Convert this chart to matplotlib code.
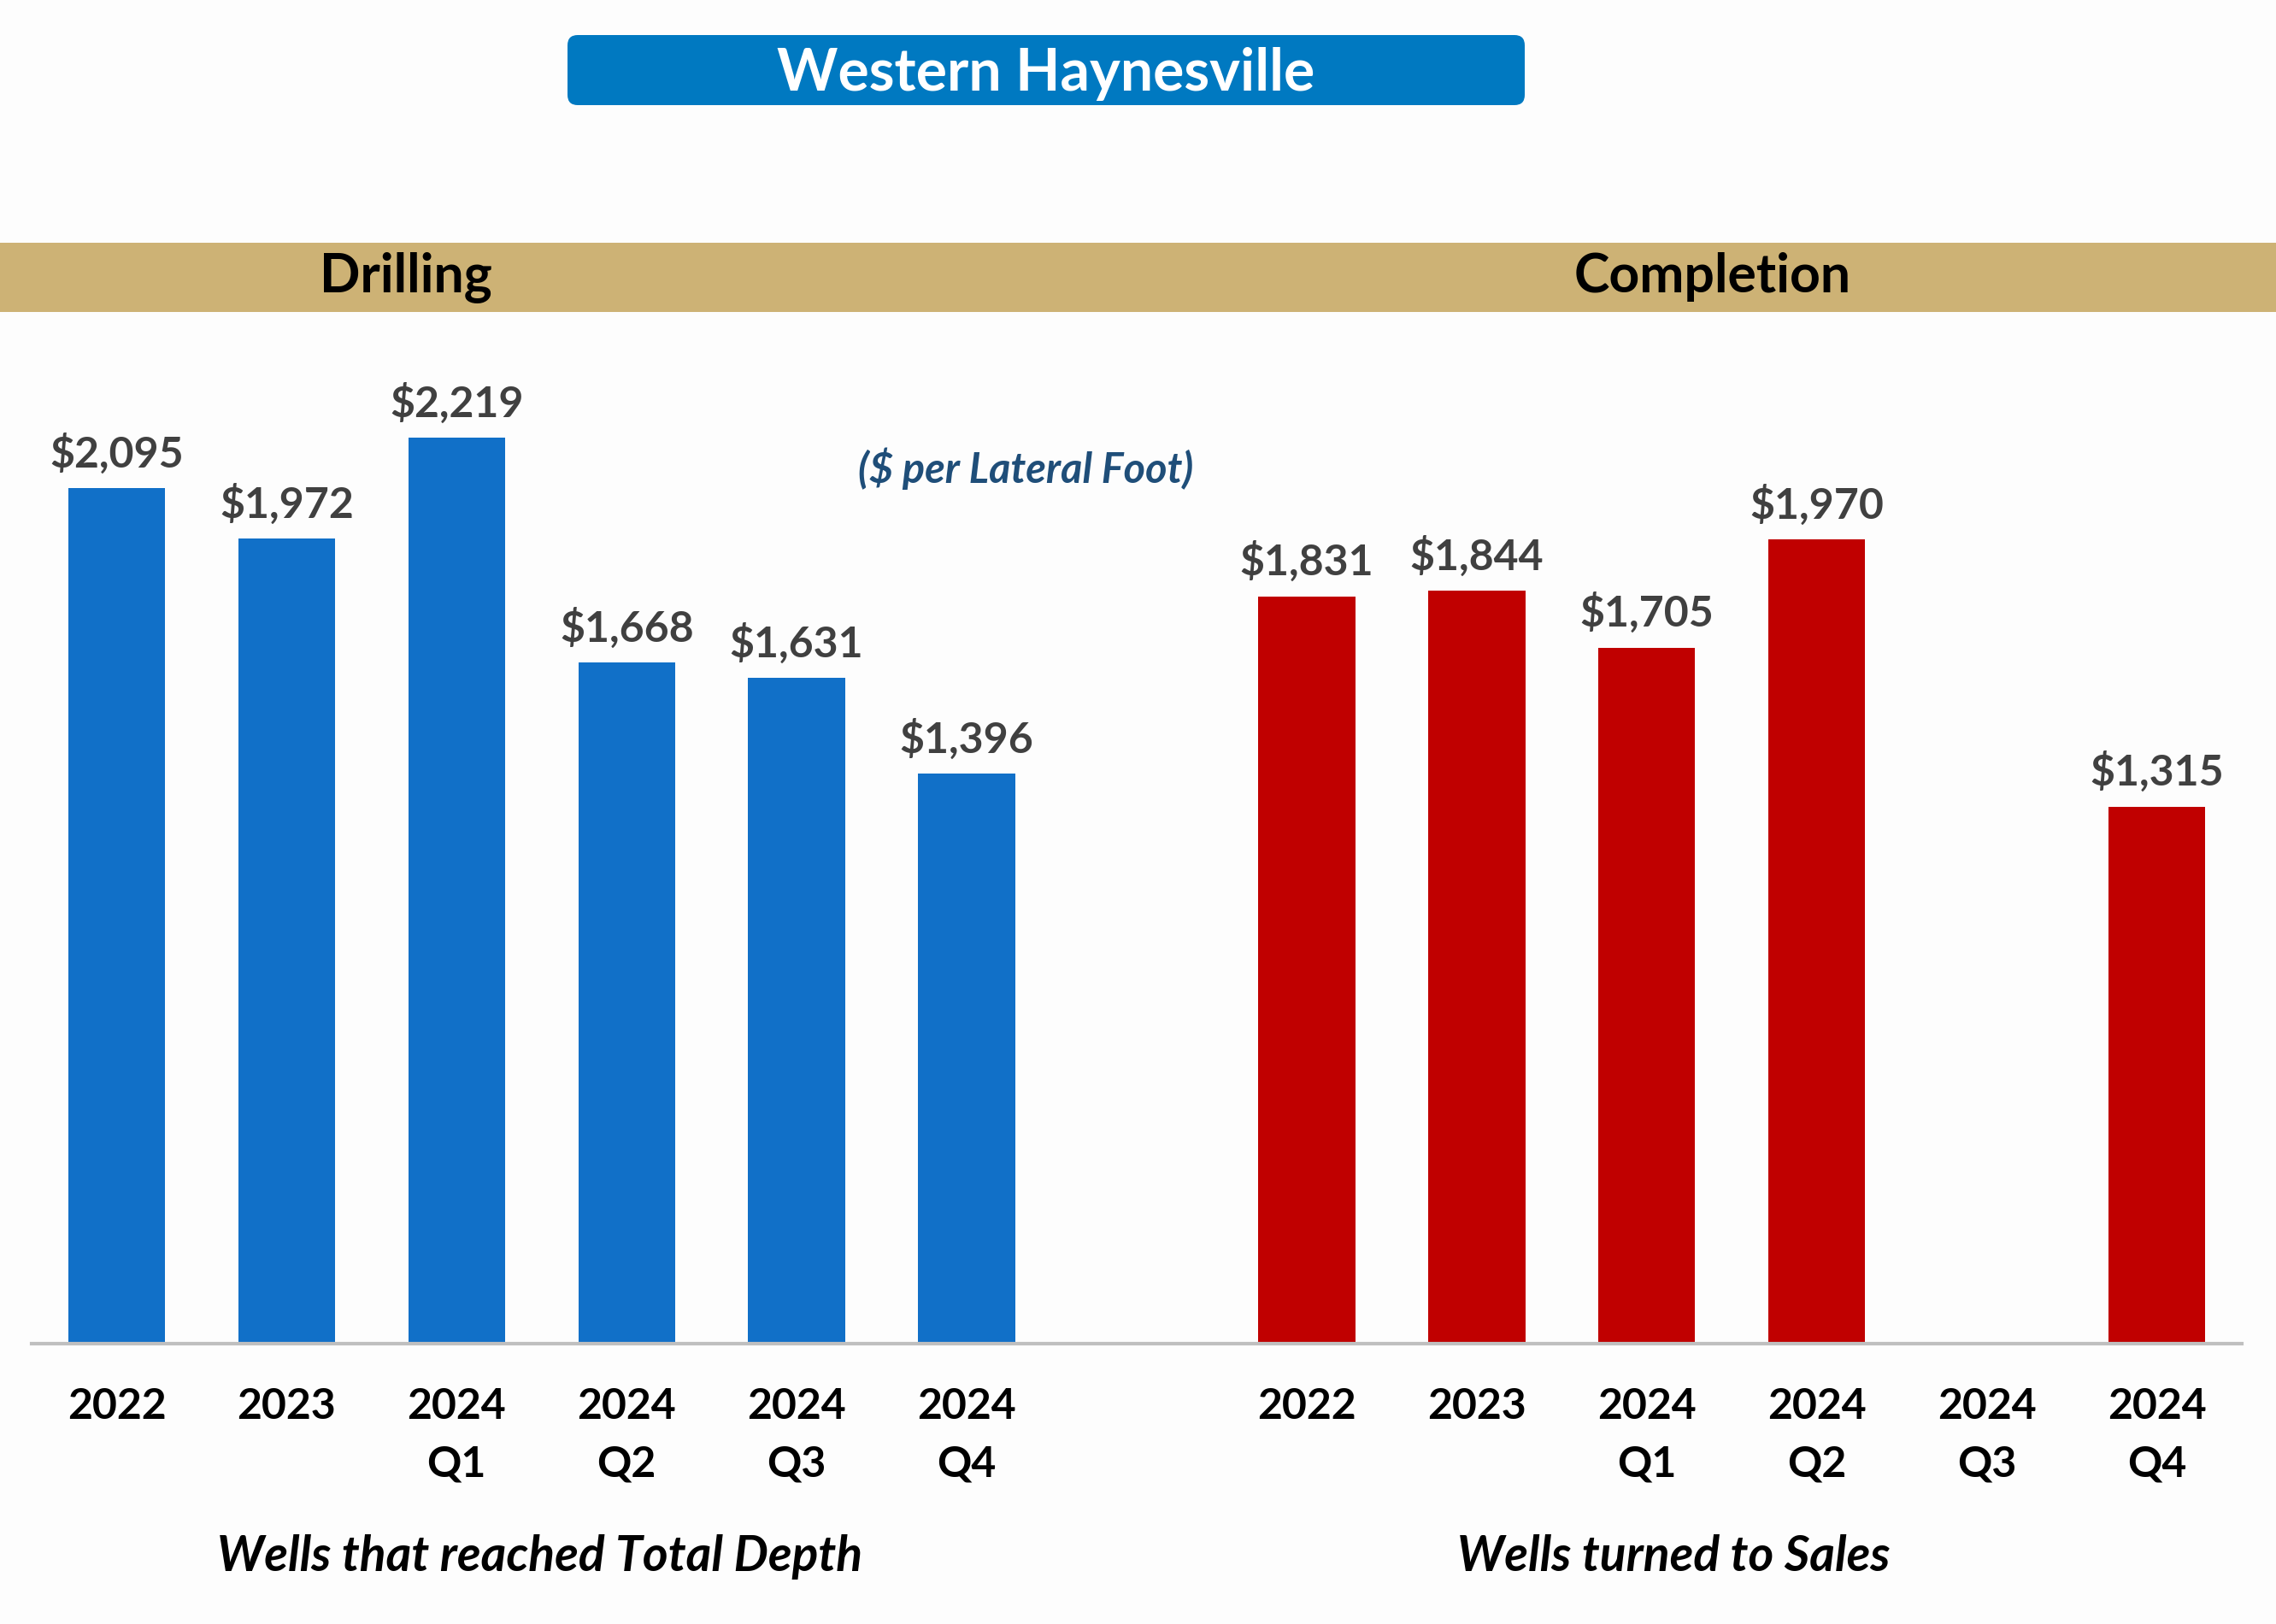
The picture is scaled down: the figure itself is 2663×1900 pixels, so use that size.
import numpy as np
import matplotlib.pyplot as plt
from matplotlib.patches import FancyBboxPatch, Rectangle

plt.rcParams['font.family'] = ['Lato', 'DejaVu Sans']

# Data
drill_labels = ['2022', '2023', '2024\nQ1', '2024\nQ2', '2024\nQ3', '2024\nQ4']
drill_values = [2095, 1972, 2219, 1668, 1631, 1396]
comp_labels = ['2022', '2023', '2024\nQ1', '2024\nQ2', '2024\nQ3', '2024\nQ4']
comp_values = [1831, 1844, 1705, 1970, np.nan, 1315]

BLUE = '#1170C8'
RED = '#C00000'
GOLD = '#CDB275'
TITLE_BLUE = '#0079C1'
LABEL_GREY = '#404040'

W, H = 2663, 1900
fig = plt.figure(figsize=(W / 100, H / 100), dpi=100, facecolor='#FDFDFD')

# overlay in pixel coordinates for the header decorations
bg = fig.add_axes([0, 0, 1, 1], zorder=0)
bg.set_xlim(0, W)
bg.set_ylim(H, 0)
bg.axis('off')
bg.add_patch(Rectangle((0, 284), W, 81, color=GOLD, lw=0))
bg.add_patch(FancyBboxPatch((664, 41), 1120, 82, boxstyle='round,pad=0,rounding_size=12',
                            fc=TITLE_BLUE, ec='none'))
bg.text(1224, 87, 'Western Haynesville', color='white', fontsize=49, fontweight='bold',
        ha='center', va='center')
bg.text(475, 324, 'Drilling', color='black', fontsize=45, fontweight='bold',
        ha='center', va='center')
bg.text(2004, 324, 'Completion', color='black', fontsize=45, fontweight='bold',
        ha='center', va='center')
bg.text(1200, 548, '($ per Lateral Foot)', color='#1F4E79', fontsize=35,
        fontweight='bold', style='italic', ha='center', va='center')

# main bar axes: drilling at 0..5, completion at 7..12
ax = fig.add_axes([37 / W, 328 / H, (2623 - 37) / W, (1572 - 400) / H], zorder=1)
ax.patch.set_alpha(0)

drill_x = np.arange(len(drill_values))
comp_x = np.arange(len(comp_values)) + len(drill_values) + 1

ax.bar(drill_x, drill_values, width=0.57, color=BLUE)
ax.bar(comp_x, np.nan_to_num(comp_values), width=0.57, color=RED)

for x, v in list(zip(drill_x, drill_values)) + list(zip(comp_x, comp_values)):
    if np.isnan(v):
        continue
    ax.annotate(f'${v:,.0f}', (x, v), xytext=(0, 12), textcoords='offset points',
                ha='center', va='bottom', fontsize=36, fontweight='bold', color=LABEL_GREY)

ax.set_xlim(-0.5, 12.5)
ax.set_ylim(0, 2454)
ax.set_xticks(list(drill_x) + list(comp_x))
ax.set_xticklabels(drill_labels + comp_labels, fontsize=36, fontweight='bold', linespacing=1.6)
ax.tick_params(axis='x', length=0, pad=37)
ax.set_yticks([])
for s in ['top', 'left', 'right']:
    ax.spines[s].set_visible(False)
ax.spines['bottom'].set_color('#BFBFBF')
ax.spines['bottom'].set_linewidth(3)

bg.text(632, 1822, 'Wells that reached Total Depth', fontsize=41, fontweight='bold',
        style='italic', ha='center', va='center')
bg.text(1958, 1822, 'Wells turned to Sales', fontsize=41, fontweight='bold',
        style='italic', ha='center', va='center')

fig.savefig('out.png', dpi=100, facecolor=fig.get_facecolor())
